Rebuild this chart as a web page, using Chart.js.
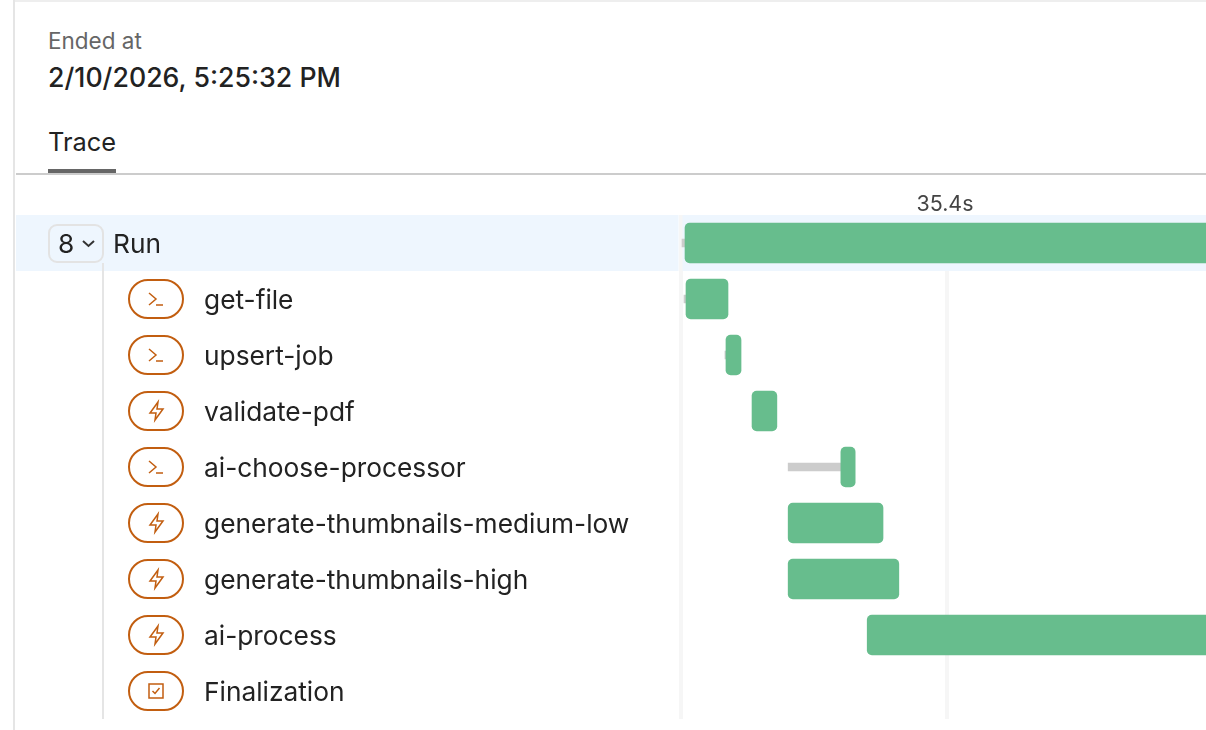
<!DOCTYPE html>
<html>
<head>
<meta charset="utf-8">
<title>Trace</title>
<script src="https://cdn.jsdelivr.net/npm/chart.js@4/dist/chart.umd.min.js"></script>
<style>
    html, body { margin: 0; padding: 0; background: #fff; overflow: hidden; }
    body { width: 1206px; height: 730px; position: relative; font-family: Inter, sans-serif; color: #222; }
    canvas { position: absolute; left: 0; top: 0; }
    .line { position: absolute; }
    .text { position: absolute; white-space: nowrap; line-height: 1; }
</style>
</head>
<body>
<div class="line" style="left:13px;top:0;width:1193px;height:2px;background:#eee"></div>
<div class="line" style="left:13px;top:0;width:2px;height:730px;background:#e5e5e5"></div>
<div class="text" style="left:48px;top:30px;font-size:22.5px;color:#666">Ended at</div>
<div class="text" style="left:48px;top:64px;font-size:26.7px;font-weight:500">2/10/2026, 5:25:32 PM</div>
<div class="text" style="left:48px;top:129px;font-size:25.4px">Trace</div>
<div class="line" style="left:48px;top:169px;width:68px;height:4px;background:#666"></div>
<div class="line" style="left:16px;top:173px;width:1190px;height:2px;background:#ccc"></div>
<canvas id="chart" width="1206" height="730"></canvas>
<script>
const spans = ['Run', 'get-file', 'upsert-job', 'validate-pdf', 'ai-choose-processor',
    'generate-thumbnails-medium-low', 'generate-thumbnails-high', 'ai-process', 'Finalization'];
const icons = [null, 'terminal', 'terminal', 'bolt', 'terminal', 'bolt', 'bolt', 'bolt', 'check'];
// seconds from the start of the trace
const running = [[0.6, 75], [0.73, 6.31], [6.04, 8.04], [9.5, 12.8], [21.3, 23.2], [14.3, 26.9], [14.3, 29.0], [24.8, 75], null];
const queued = [[0.2, 0.6], [0.46, 0.73], [5.9, 6.04], null, [14.3, 21.3], null, null, null, null];
const timeTicks = [0, 35.4];
const childCount = 8;

const ORANGE = '#c25e10';

function roundRect(ctx, x, y, w, h, r) {
    ctx.beginPath();
    ctx.roundRect(x, y, w, h, r);
    ctx.stroke();
}

function drawIcon(ctx, type, cx, cy) {
    ctx.lineWidth = 1.5;
    ctx.strokeStyle = ORANGE;
    ctx.beginPath();
    if (type === 'terminal') {
        ctx.moveTo(cx - 7, cy - 6);
        ctx.lineTo(cx, cy);
        ctx.lineTo(cx - 7, cy + 6);
        ctx.moveTo(cx, cy + 6);
        ctx.lineTo(cx + 7, cy + 6);
    } else if (type === 'bolt') {
        ctx.moveTo(cx + 2, cy - 9);
        ctx.lineTo(cx - 6, cy + 2);
        ctx.lineTo(cx, cy + 2);
        ctx.lineTo(cx - 1, cy + 9);
        ctx.lineTo(cx + 7, cy - 2);
        ctx.lineTo(cx + 1, cy - 2);
        ctx.closePath();
    } else {
        ctx.rect(cx - 7, cy - 7, 14, 14);
        ctx.moveTo(cx - 3.5, cy);
        ctx.lineTo(cx - 1, cy + 2.5);
        ctx.lineTo(cx + 3.5, cy - 3);
    }
    ctx.stroke();
}

const rowDecor = {
    id: 'rowDecor',
    beforeDatasetsDraw(chart) {
        const { ctx, scales: { x, y } } = chart;
        const top = y.getPixelForValue(0) - 28;
        const zero = x.getPixelForValue(0);
        ctx.save();
        ctx.fillStyle = '#eef6fe';
        ctx.fillRect(16, top, zero - 2 - 16, 56);
        ctx.fillRect(zero + 2, top, 1206 - zero - 2, 56);

        // tree line from the parent row down
        ctx.fillStyle = '#e5e5e5';
        ctx.fillRect(102, top + 48, 2, y.bottom - top - 48);

        const cy0 = y.getPixelForValue(0);
        ctx.strokeStyle = '#e3e3e3';
        ctx.lineWidth = 2;
        ctx.fillStyle = '#eef6fe';
        ctx.beginPath();
        ctx.roundRect(49, cy0 - 18, 54, 37, 8);
        ctx.fill();
        ctx.stroke();
        ctx.fillStyle = '#222';
        ctx.font = '26.3px Inter';
        ctx.textBaseline = 'middle';
        ctx.textAlign = 'left';
        ctx.fillText(String(childCount), 58, cy0 + 2);
        ctx.fillText(spans[0], 113, cy0 + 2);
        ctx.strokeStyle = '#333';
        ctx.lineWidth = 2;
        ctx.beginPath();
        ctx.moveTo(83, cy0 - 2);
        ctx.lineTo(88.5, cy0 + 3);
        ctx.lineTo(94, cy0 - 2);
        ctx.stroke();

        icons.forEach((type, i) => {
            if (!type) return;
            const cy = y.getPixelForValue(i);
            ctx.strokeStyle = ORANGE;
            ctx.lineWidth = 2;
            roundRect(ctx, 129, cy - 19, 54, 38, 19);
            drawIcon(ctx, type, 156, cy);
        });
        ctx.restore();
    },
};

new Chart(document.getElementById('chart').getContext('2d'), {
    type: 'bar',
    data: {
        labels: spans,
        datasets: [
            { data: running, backgroundColor: '#67bd8d', barThickness: 40, borderRadius: 5, borderSkipped: false, grouped: false, order: 1 },
            { data: queued, backgroundColor: '#cccccc', barThickness: 8, grouped: false, order: 2 },
        ],
    },
    options: {
        indexAxis: 'y',
        responsive: false,
        animation: false,
        events: [],
        layout: { padding: { left: 204, top: 190, right: 0, bottom: 11 } },
        plugins: { legend: { display: false }, tooltip: { enabled: false } },
        scales: {
            x: {
                position: 'top',
                min: 0,
                max: 69.8,
                afterBuildTicks(axis) {
                    axis.ticks = timeTicks.map((value) => ({ value }));
                },
                afterFit(axis) { axis.height = 25; },
                border: { display: false },
                grid: { color: '#f6f6f6', lineWidth: 4, drawTicks: false },
                ticks: {
                    padding: -2,
                    labelOffset: -2,
                    color: '#444',
                    font: { family: 'Inter', size: 21.4 },
                    maxRotation: 0,
                    callback: (v) => (v === 0 ? '' : v + 's'),
                },
            },
            y: {
                afterFit(axis) {
                    axis.width = 476.5;
                    axis.paddingTop = 0;
                    axis.paddingBottom = 0;
                },
                border: { display: false },
                grid: { display: false },
                ticks: {
                    crossAlign: 'far',
                    autoSkip: false,
                    labelOffset: 2,
                    color: '#222',
                    font: { family: 'Inter', size: 26.3 },
                    callback(v, i) { return i === 0 ? '' : spans[i]; },
                },
            },
        },
    },
    plugins: [rowDecor],
});
</script>
</body>
</html>
